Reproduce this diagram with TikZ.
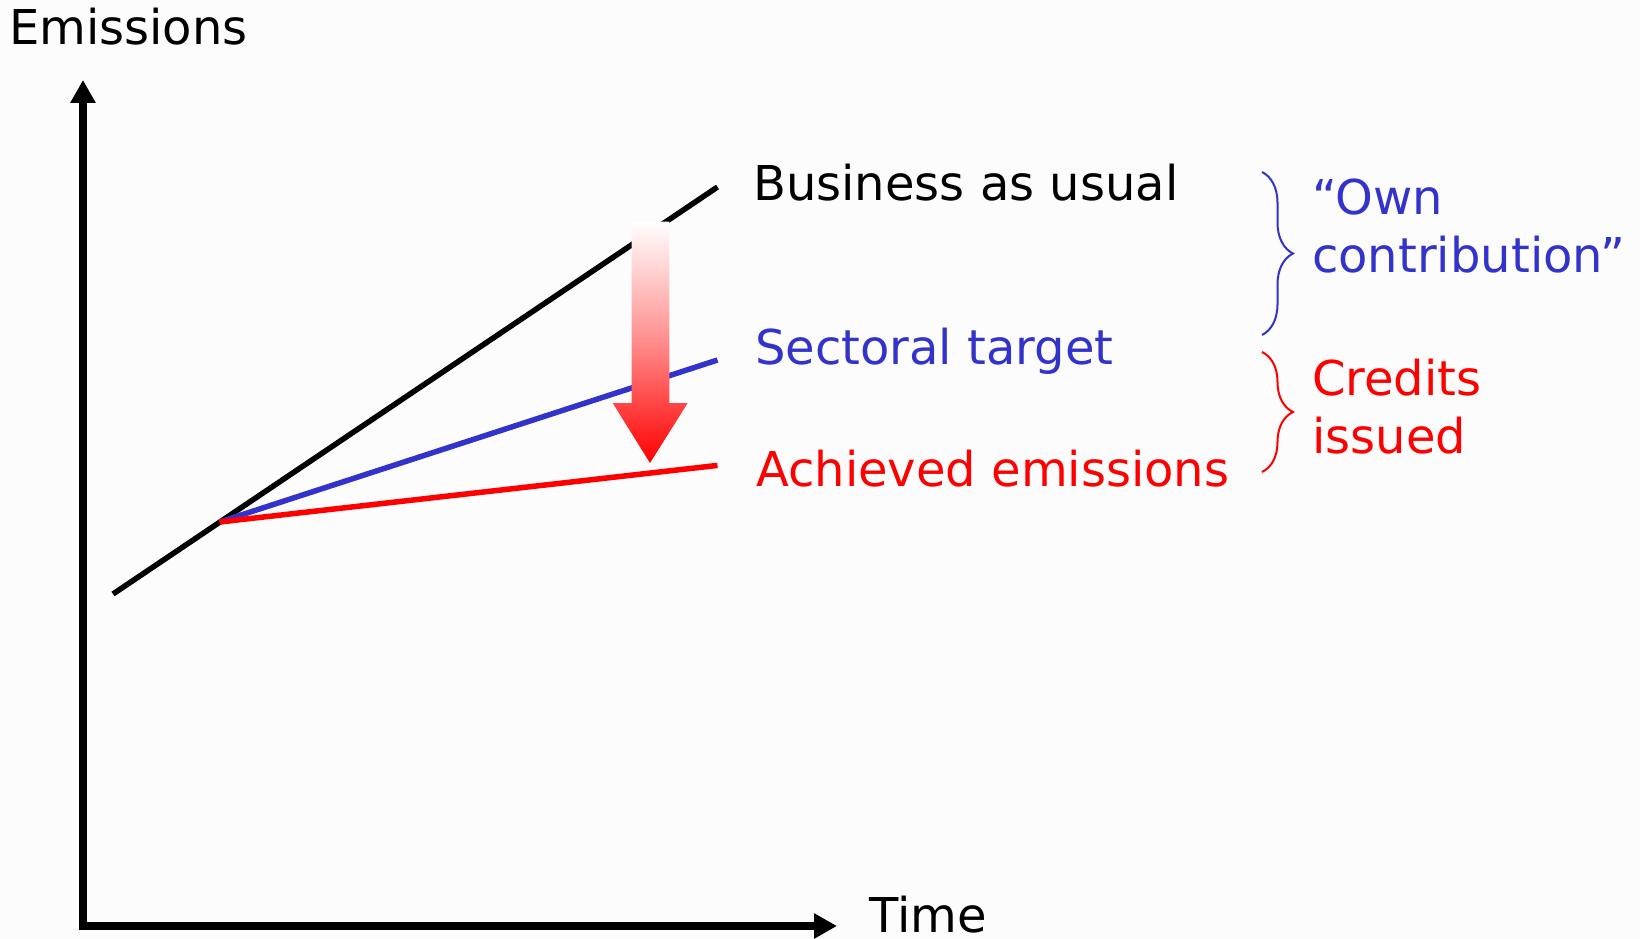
\documentclass[tikz,border=0pt]{standalone}
\usepackage{fontspec}
\setmainfont{DejaVu Sans}
\usetikzlibrary{arrows.meta,decorations.pathreplacing}
\definecolor{ownBlue}{RGB}{51,51,204}
\definecolor{paper}{RGB}{252,252,252}
\begin{document}
\begin{tikzpicture}
[x=1pt,y=-1pt,
  every node/.style={inner sep=0pt,font=\fontsize{48pt}{57.5pt}\selectfont},
  axisLine/.style={line width=8pt,-{Triangle[length=23pt,width=24pt]}},
  dataLine/.style={line width=5.5pt},
  braceLine/.style={line width=2pt,decorate,decoration={brace,amplitude=31pt}}]
\fill[paper] (0,0) rectangle (1640,939);
\useasboundingbox (0,0) rectangle (1640,939);
% axes
\coordinate (origin) at (83,926);
\coordinate (yEnd) at (83,80);
\coordinate (xEnd) at (837,926);
\draw[axisLine] ([yshift=-4pt]origin) -- (yEnd);
\draw[axisLine] ([xshift=-4pt]origin) -- (xEnd);
\node[anchor=base west] (emissions) at (9,45) {Emissions};
\node[anchor=base west] (time) at (869,932) {Time};
% lines
\coordinate (bauStart) at (113,594);
\coordinate (split) at (219.6,522);
\coordinate (bauEnd) at (717.5,187);
\coordinate (targetEnd) at (717.5,360);
\coordinate (achievedEnd) at (717.5,465.4);
\draw[dataLine,black] (bauStart) -- (bauEnd);
\draw[dataLine,ownBlue] (split) -- (targetEnd);
\draw[dataLine,red] (split) -- (achievedEnd);
% reduction arrow
\shade[top color=white,bottom color=red,middle color=red!45]
  (631.7,221.7) -- (669.3,221.7) -- (669.3,403) -- (687.7,403) --
  (650,463) -- (612.7,403) -- (631.7,403) -- cycle;
% labels
\node[anchor=base west] (bau) at (753,200) {Business as usual};
\node[anchor=base west,text=ownBlue] (target) at (755,364) {Sectoral target};
\node[anchor=base west,text=red] (achieved) at (756,486) {Achieved emissions};
\node[anchor=base west,text=ownBlue,align=left] (own) at (1312,272)
  {“Own\\contribution”};
\node[anchor=base west,text=red,align=left] (credits) at (1312,453)
  {Credits\\issued};
% braces
\coordinate (ownTop) at (1262,172);
\coordinate (ownBottom) at (1262,335);
\coordinate (creditsTop) at (1262,352);
\coordinate (creditsBottom) at (1262,472);
\draw[braceLine,ownBlue] (ownTop) -- (ownBottom);
\draw[braceLine,red] (creditsTop) -- (creditsBottom);
\end{tikzpicture}
\end{document}
